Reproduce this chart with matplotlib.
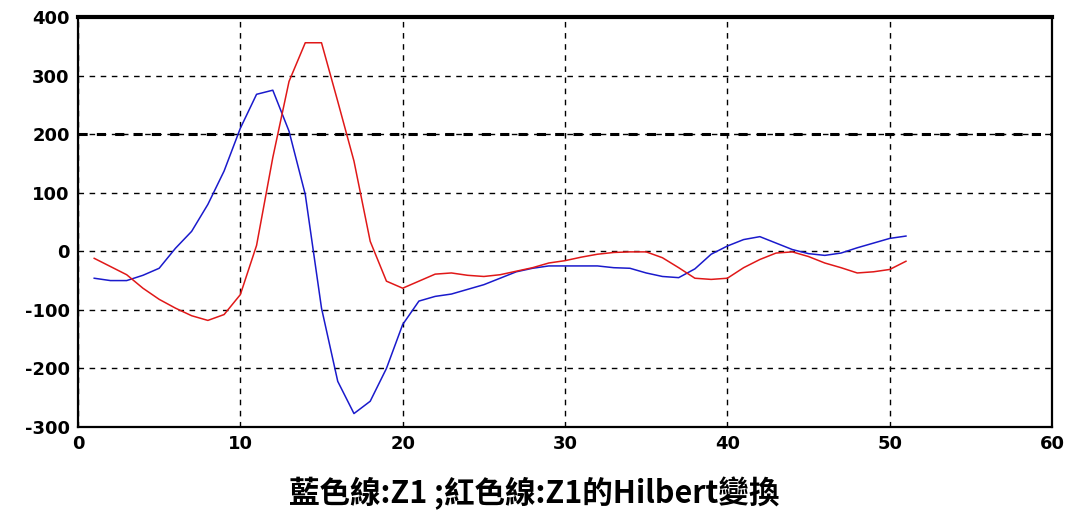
import matplotlib.pyplot as plt

# Data (sample index 1..51)
x_vals = list(range(1, 52))

z1 = [-46, -50, -50, -41, -29, 5, 34, 80, 137, 210,
      268, 275, 205, 97, -97, -222, -277, -256, -200, -125,
      -85, -77, -73, -65, -57, -46, -35, -29, -25, -25,
      -25, -25, -28, -29, -37, -43, -45, -30, -5, 9,
      20, 25, 14, 3, -4, -7, -3, 6, 14, 22, 26]

hilbert_z1 = [-12, -26, -40, -63, -82, -97, -110, -118, -108, -74,
              10, 160, 290, 356, 356, 256, 154, 17, -51, -63,
              -51, -39, -37, -41, -43, -40, -34, -28, -20, -16,
              -10, -5, -2, -1, -1, -11, -28, -46, -48, -46,
              -28, -14, -3, -1, -9, -20, -28, -37, -35, -31, -17]

x_ticks = [0, 10, 20, 30, 40, 50, 60]
y_ticks = [-300, -200, -100, 0, 100, 200, 300, 400]
caption = '藍色線:Z1 ;紅色線:Z1的Hilbert變換'

plt.rcParams['axes.unicode_minus'] = False

fig = plt.figure(figsize=(10.74, 5.13), dpi=100)
ax = fig.add_axes([0.0726, 0.1676, 0.907, 0.7993])

ax.plot(x_vals, z1, color='#1a1acc', linewidth=1.1)
ax.plot(x_vals, hilbert_z1, color='#e01818', linewidth=1.1)

ax.set_xlim(0, 60)
ax.set_ylim(-300, 400)
ax.set_xticks(x_ticks)
ax.set_yticks(y_ticks)
ax.tick_params(length=0, pad=6, labelsize=13)
for lab in ax.get_xticklabels() + ax.get_yticklabels():
    lab.set_fontweight('bold')

# dashed grid, the 200 line is drawn heavier
ax.grid(True, color='black', linestyle=(0, (4, 4)), linewidth=1.0)
ax.axhline(200, color='black', linestyle=(0, (3, 3)), linewidth=2.2)

for side in ['left', 'bottom', 'right']:
    ax.spines[side].set_linewidth(1.6)
ax.spines['top'].set_linewidth(3)

fig.text(0.497, 0.038, caption, ha='center', va='center', fontsize=22,
         fontweight='bold', family=['Noto Sans CJK TC', 'DejaVu Sans'])

plt.savefig('out.png', dpi=100)
